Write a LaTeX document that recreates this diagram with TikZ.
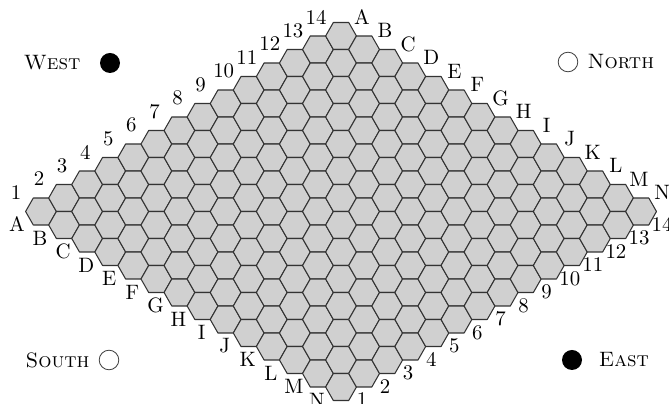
\documentclass[tikz,border=0pt]{standalone}
\usepackage{tikz}
\usetikzlibrary{positioning}
\definecolor{cellfill}{HTML}{D0D0D0}
\definecolor{cellline}{HTML}{333333}

\begin{document}
\begin{tikzpicture}[x=0.48pt,y=-0.48pt,
cell/.style={draw=cellline,fill=cellfill,line width=0.5pt,line join=round},
lbl/.style={inner sep=0pt},
side/.style={inner sep=0pt},
blackstone/.style={circle,fill=black,inner sep=0pt,minimum size=9.6pt},
whitestone/.style={circle,draw=black!75,fill=white,line width=0.4pt,inner sep=0pt,minimum size=9.4pt}
]
\useasboundingbox (0,0) rectangle (669,404);
% the 14x14 board
\foreach \i in {0,...,13}
  \foreach \j in {0,...,13}
    \draw[cell] ({41+23.08*(\i+\j)},{211.5+13.5*(\i-\j)}) +(-15.4,0) -- +(-7.7,-13.5) -- +(7.7,-13.5) -- +(15.4,0) -- +(7.7,13.5) -- +(-7.7,13.5) -- cycle;
% letters along the edges
\foreach \l [count=\k from 0] in {A,B,C,D,E,F,G,H,I,J,K,L,M,N} {
  \node[lbl] (sw-\l) at ({41+23.08*\k-24},{211.5+13.5*\k+13}) {\l};
  \node[lbl] (ne-\l) at ({41+23.08*(\k+13)+21},{211.5+13.5*(\k-13)-19}) {\l};
}
% numbers along the edges
\foreach \n [count=\k from 0] in {1,...,14} {
  \node[lbl] (nw-\n) at ({41+23.08*\k-25},{211.5-13.5*\k-19}) {\n};
  \node[lbl] (se-\n) at ({41+23.08*(13+\k)+21},{211.5+13.5*(13-\k)+13}) {\n};
}
% players
\node[blackstone] (westmark) at (110,63) {};
\node[side,left=9pt of westmark] (west) {\textsc{West}};
\node[whitestone] (northmark) at (568,62) {};
\node[side,right=4.3pt of northmark] (north) {\textsc{North}};
\node[whitestone] (southmark) at (109,360) {};
\node[side,left=4.3pt of southmark] (south) {\textsc{South}};
\node[blackstone] (eastmark) at (572,360) {};
\node[side,right=7.7pt of eastmark] (east) {\textsc{East}};
\end{tikzpicture}
\end{document}
